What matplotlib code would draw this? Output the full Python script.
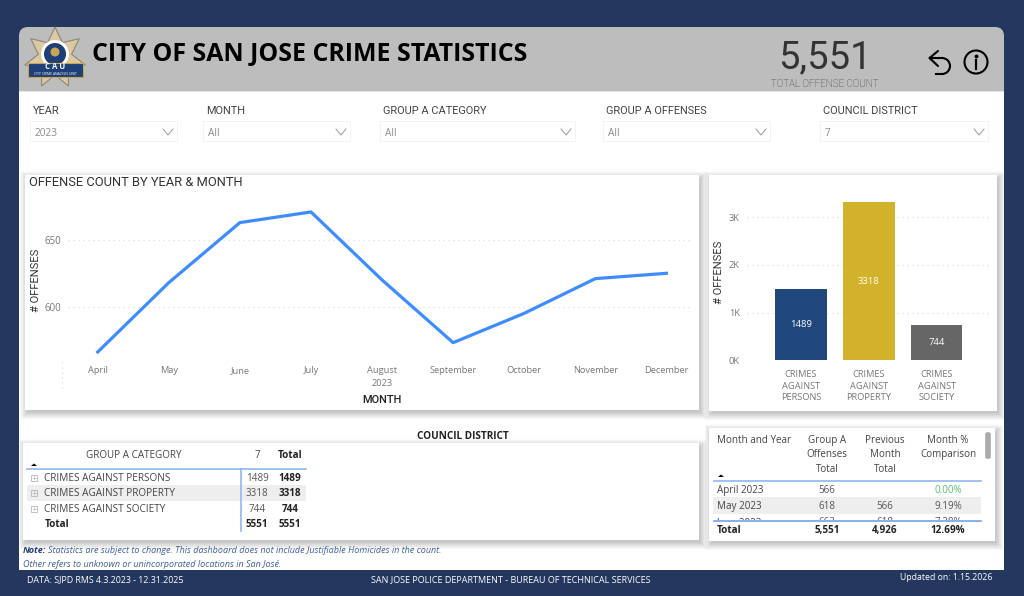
import numpy as np
import matplotlib
matplotlib.use('Agg')
import matplotlib.pyplot as plt
from matplotlib.patches import Rectangle, FancyBboxPatch, Polygon, Circle, Arc

# --- dados ---
months = ['April', 'May', 'June', 'July', 'August', 'September', 'October', 'November', 'December']
month_offenses = [566, 618, 663, 671, 620, 573, 595, 621, 625]
line_ticks = [600, 650]

categories = ['CRIMES\nAGAINST\nPERSONS', 'CRIMES\nAGAINST\nPROPERTY', 'CRIMES\nAGAINST\nSOCIETY']
category_totals = [1489, 3318, 744]
bar_colors = ['#1F477E', '#D2B22A', '#666666']
bar_ticks = [0, 1000, 2000, 3000]
bar_ticklabels = ['0K', '1K', '2K', '3K']

matrix_rows = ['CRIMES AGAINST PERSONS', 'CRIMES AGAINST PROPERTY', 'CRIMES AGAINST SOCIETY']
matrix_vals = ['1489', '3318', '744']

month_rows = ['April 2023', 'May 2023', 'June 2023']
month_total = ['566', '618', '663']
month_prev = ['', '566', '618']
month_pct = ['0.00%', '9.19%', '7.28%']

slicers = [('YEAR', '2023', 31, 177), ('MONTH', 'All', 204, 350),
           ('GROUP A CATEGORY', 'All', 381, 575), ('GROUP A OFFENSES', 'All', 604, 770),
           ('COUNCIL DISTRICT', '7', 821, 988)]

DIN = 'Roboto'
SEGOE = 'Open Sans'
W, H = 1024, 596

fig = plt.figure(figsize=(W / 100, H / 100), dpi=100, facecolor='#24375F')
bg = fig.add_axes([0, 0, 1, 1])
bg.set_xlim(0, W)
bg.set_ylim(H, 0)
bg.axis('off')


def px_axes(x0, y0, x1, y1):
    # eixo posicionado em pixels da imagem
    ax = fig.add_axes([x0 / W, 1 - y1 / H, (x1 - x0) / W, (y1 - y0) / H])
    ax.patch.set_alpha(0)
    return ax


def txt(x, y, s, size=7, color='#444444', ha='left', font=SEGOE, **kw):
    return bg.text(x, y + 0.8, s, fontsize=size, color=color, ha=ha, va='center', family=font, **kw)


def panel(x0, y0, x1, y1):
    # sombra feita com retangulos transparentes
    for e in range(8, 0, -1):
        bg.add_patch(Rectangle((x0 - e + 4, y0 - e + 5), x1 - x0 + 2 * e - 4, y1 - y0 + 2 * e - 4,
                               fc='black', ec='none', alpha=0.028, zorder=1))
    bg.add_patch(Rectangle((x0 - 4, y0 - 4), x1 - x0 + 8, y1 - y0 + 8, fc='black', ec='none', alpha=0.012, zorder=1))
    bg.add_patch(Rectangle((x0, y0), x1 - x0, y1 - y0, fc='white', ec='none', zorder=2))


# --- fundo ---
bg.add_patch(FancyBboxPatch((27, 35), 969, 527, boxstyle='round,pad=8,rounding_size=9',
                            fc='#BDBDBD', ec='none', zorder=0))
bg.add_patch(Rectangle((19, 92), 985, 457, fc='white', ec='none', zorder=0))
bg.add_patch(Rectangle((19, 549), 985, 21, fc='white', ec='none', zorder=0))
bg.add_patch(Rectangle((19, 91), 985, 1, fc='#E4E4E4', ec='none', zorder=0.5))

# --- logo ---
ang = np.deg2rad(np.arange(0, 360, 360 / 14) - 90)
rad = np.where(np.arange(14) % 2 == 0, 31, 17)
star = np.c_[55 + rad * np.cos(ang), 58 + rad * np.sin(ang)]
bg.add_patch(Polygon(star, fc='#DCC9A3', ec='#8C8678', lw=0.8, zorder=3))
bg.add_patch(Circle((55, 54), 14, fc='white', ec='none', zorder=3))
bg.add_patch(Circle((55, 54), 11, fc='#1F3F78', ec='none', zorder=3))
bg.add_patch(Circle((55, 52), 4.5, fc='#C7A850', ec='none', zorder=3))
bg.add_patch(Rectangle((28, 63), 55, 14, fc='#1F3F78', ec='#C7A850', lw=0.8, zorder=4))
txt(55, 66, 'C A U', 5.6, 'white', 'center', zorder=5, fontweight='bold')
txt(55, 73, 'CITY CRIME ANALYSIS UNIT', 2.4, 'white', 'center', zorder=5)

# --- cabecalho ---
txt(92, 54, 'CITY OF SAN JOSE CRIME STATISTICS', 17.9, 'black', font=SEGOE, fontweight='bold', zorder=5)
txt(825, 56.5, '5,551', 27.5, '#333333', 'center', font=DIN, zorder=5)
txt(825, 83, 'TOTAL OFFENSE COUNT', 7, '#333333', 'center', font=DIN, fontweight='light', zorder=5)

# icone voltar
bg.plot([938, 929.5, 938], [51, 58, 66], color='black', lw=1.5, zorder=5, solid_capstyle='round')
bg.plot([930, 942], [58, 58], color='black', lw=1.5, zorder=5)
bg.add_patch(Arc((942, 66), 16, 16, theta1=-90, theta2=90, color='black', lw=1.5, zorder=5))
bg.plot([942, 936], [74, 74], color='black', lw=1.5, zorder=5)
# icone info
bg.add_patch(Circle((976, 62), 11.5, fc='none', ec='black', lw=1.5, zorder=5))
bg.plot([976, 976], [60, 69], color='black', lw=1.6, zorder=5)
bg.plot([976], [55.5], 'o', color='black', ms=1.8, zorder=5)

# --- filtros ---
for label, value, x0, x1 in slicers:
    bg.add_patch(Rectangle((x0 - 1, 121), x1 - x0 + 1, 20, fc='white', ec='#F3F3F3', lw=0.7, zorder=2))
    txt(x0 + 2, 110, label, 7.9, '#444444', font=DIN, zorder=3)
    txt(x0 + 4, 132.5, value, 7.3, '#8A8A8A', font=SEGOE, zorder=3)
    bg.plot([x1 - 14, x1 - 9, x1 - 4], [129, 135, 129], color='#999999', lw=0.7, zorder=3)

# --- paineis ---
panel(25, 175, 699, 410)
panel(709, 175, 997, 411)
panel(23, 443, 699, 540)
panel(709, 428, 995, 541)

# --- grafico de linha ---
ax = px_axes(68, 195, 692, 360)
ax.plot(range(len(months)), month_offenses, color='#3F8CFF', lw=2.3, solid_joinstyle='round')
ax.set_xlim(-0.418, 8.36)
ax.set_ylim(560, 683.7)
ax.set_xticks(range(len(months)))
ax.set_xticklabels(months, fontsize=6.7, color='#777777', family=SEGOE, va='baseline')
ax.set_yticks(line_ticks)
ax.set_yticklabels([str(v) for v in line_ticks], fontsize=7, color='#777777', family=SEGOE)
ax.tick_params(length=0)
ax.tick_params(axis='x', pad=9.4)
ax.tick_params(axis='y', pad=5)
ax.grid(axis='y', color='#DDDDDD', ls=(0, (1, 3)), lw=0.9)
ax.set_axisbelow(True)
for s in ax.spines.values():
    s.set_visible(False)

txt(29, 181.5, 'OFFENSE COUNT BY YEAR & MONTH', 9.3, '#333333', font=DIN, zorder=5)
txt(36, 280, '# OFFENSES', 8, '#333333', 'center', font=DIN, rotation=90, zorder=5)
txt(382, 382.5, '2023', 6.7, '#777777', 'center', zorder=5)
txt(382, 399, 'MONTH', 7.9, '#222222', 'center', font=DIN, fontweight='medium', zorder=5)
bg.plot([62, 62], [362, 391], color='#DDDDDD', ls=(0, (1, 3)), lw=0.9, zorder=3)

# --- grafico de barras ---
ax2 = px_axes(746.7, 195, 990, 360.3)
bars = ax2.bar(range(len(categories)), category_totals, width=0.76, color=bar_colors, zorder=3)
ax2.set_xlim(-0.797, 2.786)
ax2.set_ylim(0, 3467)
ax2.set_yticks(bar_ticks)
ax2.set_yticklabels(bar_ticklabels, fontsize=6.7, color='#777777', family=SEGOE)
ax2.set_xticks(range(len(categories)))
ax2.set_xticklabels(categories, fontsize=6.7, color='#777777', family=SEGOE, linespacing=1.37)
ax2.tick_params(length=0)
ax2.tick_params(axis='x', pad=7)
ax2.tick_params(axis='y', pad=5)
ax2.grid(axis='y', color='#DDDDDD', ls=(0, (1, 3)), lw=0.9)
ax2.set_axisbelow(True)
for s in ax2.spines.values():
    s.set_visible(False)
for b, v in zip(bars, category_totals):
    ax2.text(b.get_x() + b.get_width() / 2, v / 2, str(v), ha='center', va='center', color='white',
             fontsize=6.8, family=SEGOE, zorder=4)
txt(719, 272, '# OFFENSES', 8, '#333333', 'center', font=DIN, rotation=90, zorder=5)

# --- matriz distrito ---
txt(463, 436, 'COUNCIL DISTRICT', 7.2, '#222222', 'center', fontweight='bold', zorder=5)
txt(134, 455, 'GROUP A CATEGORY', 7.1, '#444444', 'center', zorder=5)
txt(257, 455, '7', 7.1, '#444444', 'center', zorder=5)
txt(290, 455, 'Total', 7.1, '#222222', 'center', fontweight='bold', zorder=5)
bg.add_patch(Polygon([[31, 466], [34, 463.5], [37, 466]], fc='black', ec='none', zorder=5))
bg.add_patch(Rectangle((27, 485), 279, 16, fc='#EEEEEE', ec='none', zorder=3))
bg.plot([27, 306], [468.5, 468.5], color='#8DB8F2', lw=1.2, zorder=5)
bg.plot([240.5, 240.5], [469, 531], color='#8DB8F2', lw=1.2, zorder=5)
for y, name, v in zip([478, 493, 509], matrix_rows, matrix_vals):
    bg.add_patch(Rectangle((31, y - 3.5), 6, 6, fc='none', ec='#AAAAAA', lw=0.5, zorder=5))
    bg.plot([32.5, 35.5], [y - 0.5, y - 0.5], color='#AAAAAA', lw=0.4, zorder=5)
    bg.plot([34, 34], [y - 2, y + 1], color='#AAAAAA', lw=0.4, zorder=5)
    txt(44.5, y, name, 7.2, '#444444', zorder=5)
    txt(257, y, v, 7.1, '#555555', 'center', zorder=5)
    txt(290, y, v, 7.1, '#222222', 'center', fontweight='bold', zorder=5)
txt(45, 524, 'Total', 7.1, '#222222', fontweight='bold', zorder=5)
txt(257, 524, '5551', 7.1, '#222222', 'center', fontweight='bold', zorder=5)
txt(290, 524, '5551', 7.1, '#222222', 'center', fontweight='bold', zorder=5)

# --- tabela mensal ---
txt(717, 440, 'Month and Year', 7.1, '#444444', zorder=5)
txt(827, 454, 'Group A\nOffenses\nTotal', 7.1, '#444444', 'center', linespacing=1.4, zorder=5)
txt(885, 454, 'Previous\nMonth\nTotal', 7.1, '#444444', 'center', linespacing=1.4, zorder=5)
txt(948, 447, 'Month %\nComparison', 7.1, '#444444', 'center', linespacing=1.4, zorder=5)
bg.add_patch(Polygon([[718, 477], [721, 474.5], [724, 477]], fc='black', ec='none', zorder=5))
bg.add_patch(Rectangle((713, 497), 268, 17, fc='#EEEEEE', ec='none', zorder=3))
bg.add_patch(FancyBboxPatch((986, 433), 4, 25, boxstyle='round,pad=0.8,rounding_size=2',
                            fc='#ABABAB', ec='none', zorder=5))
for y, name, t, p, c in zip([490, 506, 522], month_rows, month_total, month_prev, month_pct):
    txt(717, y, name, 7.1, '#444444', zorder=5)
    txt(827, y, t, 7.1, '#555555', 'center', zorder=5)
    txt(885, y, p, 7.1, '#555555', 'center', zorder=5)
    txt(948, y, c, 7.1, '#55C271' if c == '0.00%' else '#555555', 'center', zorder=5)
# a linha de junho fica cortada pelo rodape da tabela
bg.add_patch(Rectangle((710, 520), 284, 21, fc='white', ec='none', zorder=6))
bg.plot([714, 981], [481, 481], color='#8DB8F2', lw=1.2, zorder=7)
bg.plot([714, 981], [520.5, 520.5], color='#6FA3EE', lw=1.2, zorder=7)
txt(717, 530, 'Total', 7.1, '#222222', fontweight='bold', zorder=7)
txt(827, 530, '5,551', 7.1, '#222222', 'center', fontweight='bold', zorder=7)
txt(885, 530, '4,926', 7.1, '#222222', 'center', fontweight='bold', zorder=7)
txt(948, 530, '12.69%', 7.1, '#222222', 'center', fontweight='bold', zorder=7)

# --- notas e rodape ---
note_color = '#3F5F97'
txt(23, 550, 'Note:', 6.5, '#1F3F78', fontweight='bold', style='italic', zorder=5)
txt(48, 550, 'Statistics are subject to change. This dashboard does not include Justifiable Homicides in the count.',
    6.5, note_color, style='italic', zorder=5)
txt(23, 564, 'Other refers to unknown or unincorporated locations in San José.', 6.5, note_color, style='italic', zorder=5)
txt(27, 579, 'DATA: SJPD RMS 4.3.2023 - 12.31.2025', 6.4, 'white', zorder=5)
txt(511, 579, 'SAN JOSE POLICE DEPARTMENT - BUREAU OF TECHNICAL SERVICES', 6.5, 'white', 'center', zorder=5)
txt(992, 577, 'Updated on: 1.15.2026', 6.3, 'white', 'right', zorder=5)

fig.savefig('out.png', dpi=100, facecolor=fig.get_facecolor())
